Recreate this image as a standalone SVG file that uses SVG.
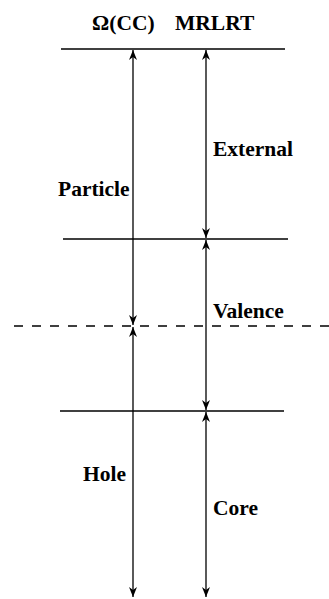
<svg xmlns="http://www.w3.org/2000/svg" width="329" height="599" viewBox="0 0 329 599">
<style>
.t{font-family:"Liberation Serif","Times New Roman",serif;font-weight:bold;font-size:21.5px;fill:#000}
.l{stroke:#000;stroke-width:1.3;fill:none}
.a{stroke:#000;stroke-width:1.3;fill:none;marker-start:url(#ah);marker-end:url(#ah)}
</style>
<defs>
<marker id="ah" viewBox="0 0 10 8" refX="10" refY="4" markerWidth="10" markerHeight="8" markerUnits="userSpaceOnUse" orient="auto-start-reverse">
<path d="M0,0 L10,4 L0,8 L3,4 Z" fill="#000"/>
</marker>
</defs>
<g id="levels">
<line class="l" x1="61" y1="49" x2="285" y2="49"/>
<line class="l" x1="63" y1="239" x2="288" y2="239"/>
<line class="l" x1="14" y1="326" x2="329" y2="326" stroke-dasharray="9,9"/>
<line class="l" x1="60" y1="411" x2="284" y2="411"/>
</g>
<g id="connectors">
<line class="a" x1="133" y1="50" x2="133" y2="325"/>
<line class="a" x1="133" y1="327" x2="133" y2="597"/>
<line class="a" x1="206" y1="50" x2="206" y2="238"/>
<line class="a" x1="206" y1="240" x2="206" y2="410"/>
<line class="a" x1="206" y1="412" x2="206" y2="597"/>
</g>
<g id="labels">
<text class="t" x="92" y="30">Ω(CC)</text>
<text class="t" x="175" y="30">MRLRT</text>
<text class="t" x="58" y="196">Particle</text>
<text class="t" x="213" y="156">External</text>
<text class="t" x="213" y="318">Valence</text>
<text class="t" x="83" y="481">Hole</text>
<text class="t" x="213" y="515">Core</text>
</g>
</svg>
